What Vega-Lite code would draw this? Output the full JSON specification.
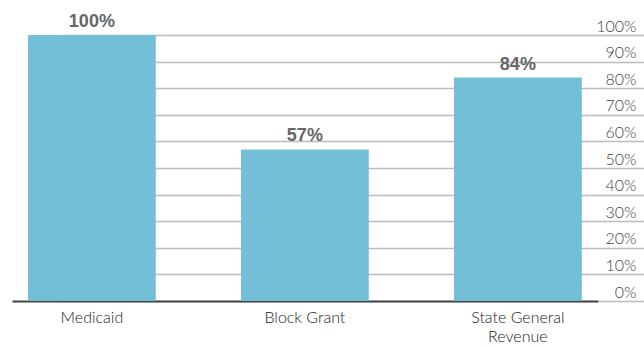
{
  "$schema": "https://vega.github.io/schema/vega-lite/v6.json",
  "autosize": "none",
  "width": 632,
  "height": 266,
  "padding": {"left": 12, "top": 35, "right": 0, "bottom": 46},
  "background": "white",
  "config": {"view": {"stroke": null}, "font": "Lato"},
  "data": {"values": [
    {"source": "Medicaid", "share": 1.0},
    {"source": "Block Grant", "share": 0.57},
    {"source": "State General Revenue", "share": 0.84}
  ]},
  "encoding": {
    "x": {"field": "source", "type": "nominal", "sort": null,
      "scale": {"range": [0, 585.75], "paddingInner": 0.4, "paddingOuter": 0.075},
      "axis": {"title": null, "ticks": false, "labelAngle": 0, "labelFontSize": 16, "labelColor": "#222", "labelFont": "Lato", "labelFontWeight": 300, "labelPadding": 8,
        "labelExpr": "datum.value == 'State General Revenue' ? ['State General', 'Revenue'] : datum.value", "labelLineHeight": 19,
        "domainColor": "#444", "domainWidth": 2}},
    "y": {"field": "share", "type": "quantitative",
      "scale": {"domain": [0, 1]},
      "axis": {"orient": "right", "title": null, "ticks": false, "domain": false, "values": [0,0.1,0.2,0.3,0.4,0.5,0.6,0.7,0.8,0.9,1],
        "format": ".0%", "labelOverlap": false, "labelAlign": "right", "labelPadding": -8, "labelBaseline": "alphabetic", "labelOffset": -4,
        "labelFontSize": 16, "labelFontWeight": 300, "labelColor": "#444", "grid": true, "gridColor": "#bbb", "gridWidth": 1.5}}
  },
  "layer": [
    {"mark": {"type": "bar", "color": "#74BFD8"}},
    {"mark": {"type": "text", "baseline": "bottom", "dy": -4, "fontSize": 18, "fontWeight": "bold", "color": "#666", "font": "Liberation Sans"},
     "encoding": {"text": {"field": "share", "type": "quantitative", "format": ".0%"}}}
  ]
}
